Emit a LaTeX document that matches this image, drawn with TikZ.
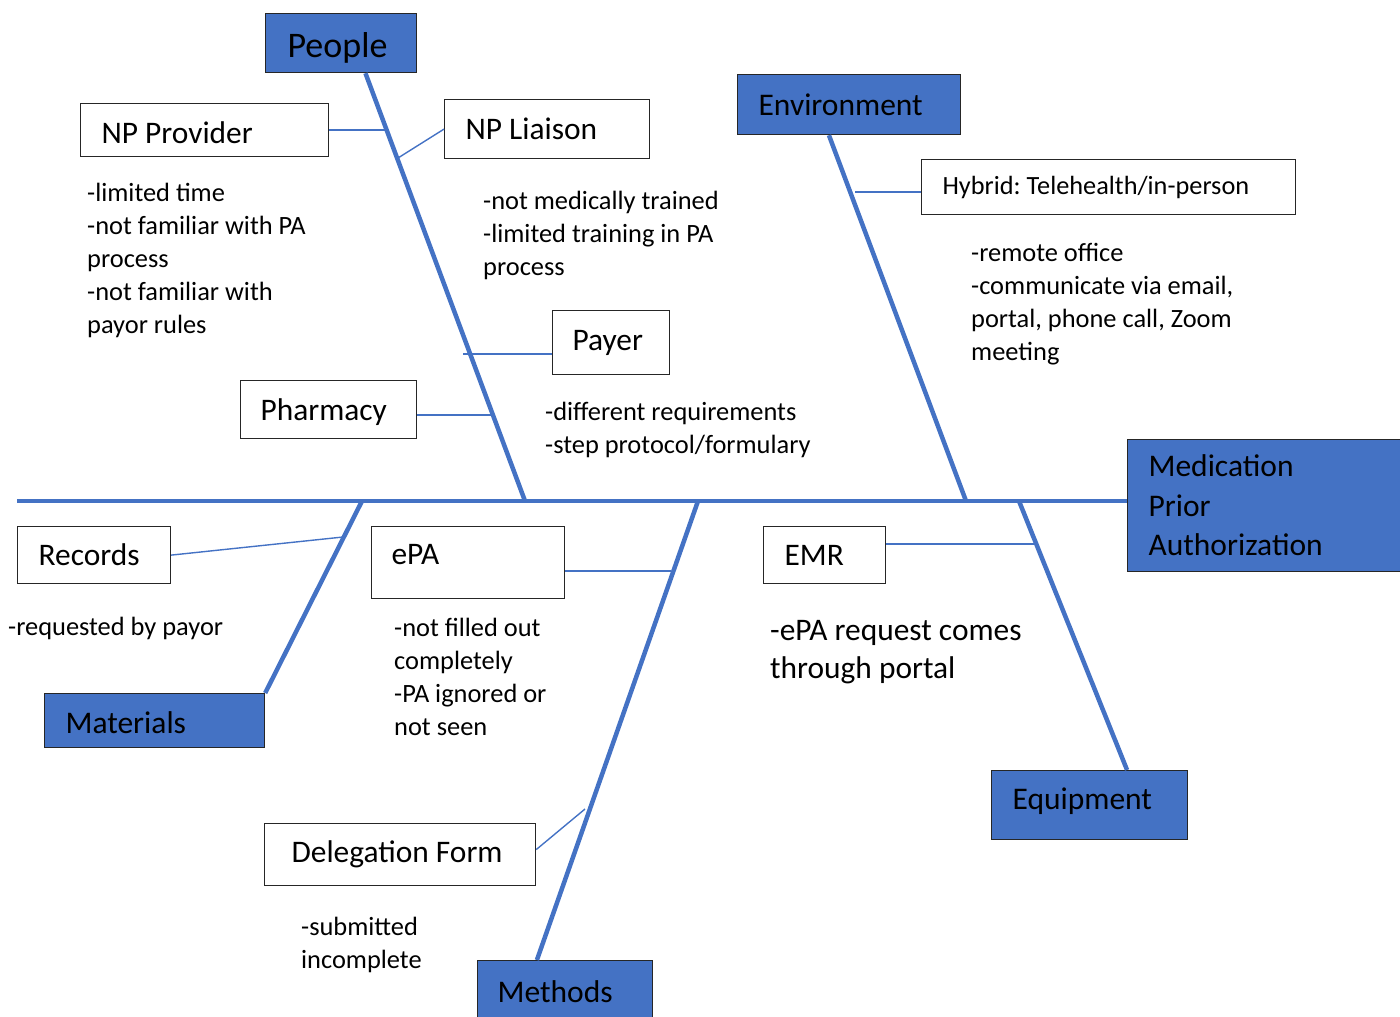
\documentclass[tikz,border=0pt]{standalone}
\usepackage{fontspec}
\setmainfont{Carlito}
\usetikzlibrary{calc}
\definecolor{fishblue}{HTML}{4472C4}
\frenchspacing

\begin{document}
\begin{tikzpicture}[x=1pt,y=-1pt,
  cat/.style={draw=black!85,line width=1.2pt,fill=fishblue,anchor=north west,inner ysep=0pt,align=flush left,font=\fontsize{31.5}{39.5}\selectfont},
  cause/.style={draw=black!85,line width=1.2pt,fill=white,anchor=north west,inner ysep=0pt,align=flush left,font=\fontsize{31.4}{38}\selectfont},
  note/.style={anchor=base west,inner sep=0pt,align=left,font=\fontsize{26.4}{33}\selectfont},
  bone/.style={fishblue,line width=4.5pt},
  twig/.style={fishblue,line width=1.4pt}]
\useasboundingbox (0,0) rectangle (1400,1017);

% categories
\node[cat,minimum height=59pt,inner xsep=22pt,text width=107pt,text height=34pt,font=\fontsize{36}{40}\selectfont] (people) at (265,13) {People};
\node[cat,minimum height=60pt,inner xsep=21pt,text width=181pt] (env) at (737,74) {Environment};
\node[cat,minimum height=54pt,inner xsep=21pt,text width=178pt,text height=27pt] (mat) at (44,693) {Materials};
\node[cat,minimum height=62pt,inner xsep=20pt,text width=135pt] (meth) at (477,960) {Methods};
\node[cat,minimum height=69pt,inner xsep=21pt,text width=154pt,text depth=12pt] (equip) at (991,770) {Equipment};
\node[cat,minimum height=132pt,inner xsep=21pt,text width=248pt] (med) at (1127,439) {Medication\\Prior\\Authorization};

% causes
\node[cause,minimum height=53pt,inner xsep=21pt,text width=206pt,text height=28pt] (prov) at (80,103) {NP Provider};
\node[cause,minimum height=59pt,inner xsep=21pt,text width=163pt] (liaison) at (444,99) {NP Liaison};
\node[cause,minimum height=64pt,inner xsep=20pt,text width=77pt] (payer) at (552,310) {Payer};
\node[cause,minimum height=58pt,inner xsep=20pt,text width=136pt,text height=27pt] (pharm) at (240,380) {Pharmacy};
\node[cause,minimum height=55pt,inner xsep=21pt,text width=332pt,font=\fontsize{26.3}{32}\selectfont] (hybrid) at (921,159) {Hybrid: Telehealth/in-person};
\node[cause,minimum height=57pt,inner xsep=21pt,text width=111pt] (records) at (17,526) {Records};
\node[cause,minimum height=72pt,inner xsep=20pt,text width=153pt,text depth=17pt] (epa) at (371,526) {ePA};
\node[cause,minimum height=62pt,inner xsep=27pt,text width=217pt] (dele) at (264,823) {Delegation Form};
\node[cause,minimum height=57pt,inner xsep=21pt,text width=80pt] (emr) at (763,526) {EMR};

% spine and bones
\coordinate (tail) at (17,501);
\coordinate (j-people) at (525,501);
\coordinate (j-env) at (966,501);
\coordinate (j-mat) at (362,501);
\coordinate (j-meth) at (698,501);
\coordinate (j-equip) at (1019,501);
\draw[bone,line width=4pt] (tail) -- (tail -| med.west);
\draw[bone] ($(people.south west)!0.66!(people.south east)$) -- (j-people);
\draw[bone] ($(env.south west)!0.41!(env.south east)$) -- (j-env);
\draw[bone] (mat.north east) -- (j-mat);
\draw[bone] ($(meth.north west)!0.34!(meth.north east)$) -- (j-meth);
\draw[bone] ($(equip.north west)!0.69!(equip.north east)$) -- (j-equip);

% twigs
\coordinate (t-prov) at (388,130);
\coordinate (t-liaison) at (398,158);
\coordinate (t-payer) at (463,354);
\coordinate (t-pharm) at (493,415);
\coordinate (t-hybrid) at (855,192);
\coordinate (t-records) at (343,537);
\coordinate (t-epa) at (671,571);
\coordinate (t-dele) at (585,809);
\coordinate (t-emr) at (1034,544);
\draw[twig] (prov.east |- t-prov) -- (t-prov);
\draw[twig] (liaison.west) -- (t-liaison);
\draw[twig] (payer.west |- t-payer) -- (t-payer);
\draw[twig] (pharm.east |- t-pharm) -- (t-pharm);
\draw[twig] (hybrid.west |- t-hybrid) -- (t-hybrid);
\draw[twig] (records.east) -- (t-records);
\draw[twig] (epa.east |- t-epa) -- (t-epa);
\draw[twig] ([yshift=5pt]dele.east) -- (t-dele);
\draw[twig] (emr.east |- t-emr) -- (t-emr);

% notes (placed at the baseline of their last line)
\node[note] (prov-notes) at (87,333) {-limited time\\-not familiar with PA\\process\\-not familiar with\\payor rules};
\node[note] (liaison-notes) at (483,275) {-not medically trained\\-limited training in PA\\process};
\node[note] (payer-notes) at (545,453) {-different requirements\\-step protocol/formulary};
\node[note] (env-notes) at (971,360) {-remote office\\-communicate via email,\\portal, phone call, Zoom\\meeting};
\node[note] (records-notes) at (8,635) {-requested by payor};
\node[note] (epa-notes) at (394,735) {-not filled out\\completely\\-PA ignored or\\not seen};
\node[note] (dele-notes) at (301,968) {-submitted\\incomplete};
\node[note,font=\fontsize{31.4}{38}\selectfont] (emr-notes) at (770,678) {-ePA request comes\\through portal};
\end{tikzpicture}
\end{document}
